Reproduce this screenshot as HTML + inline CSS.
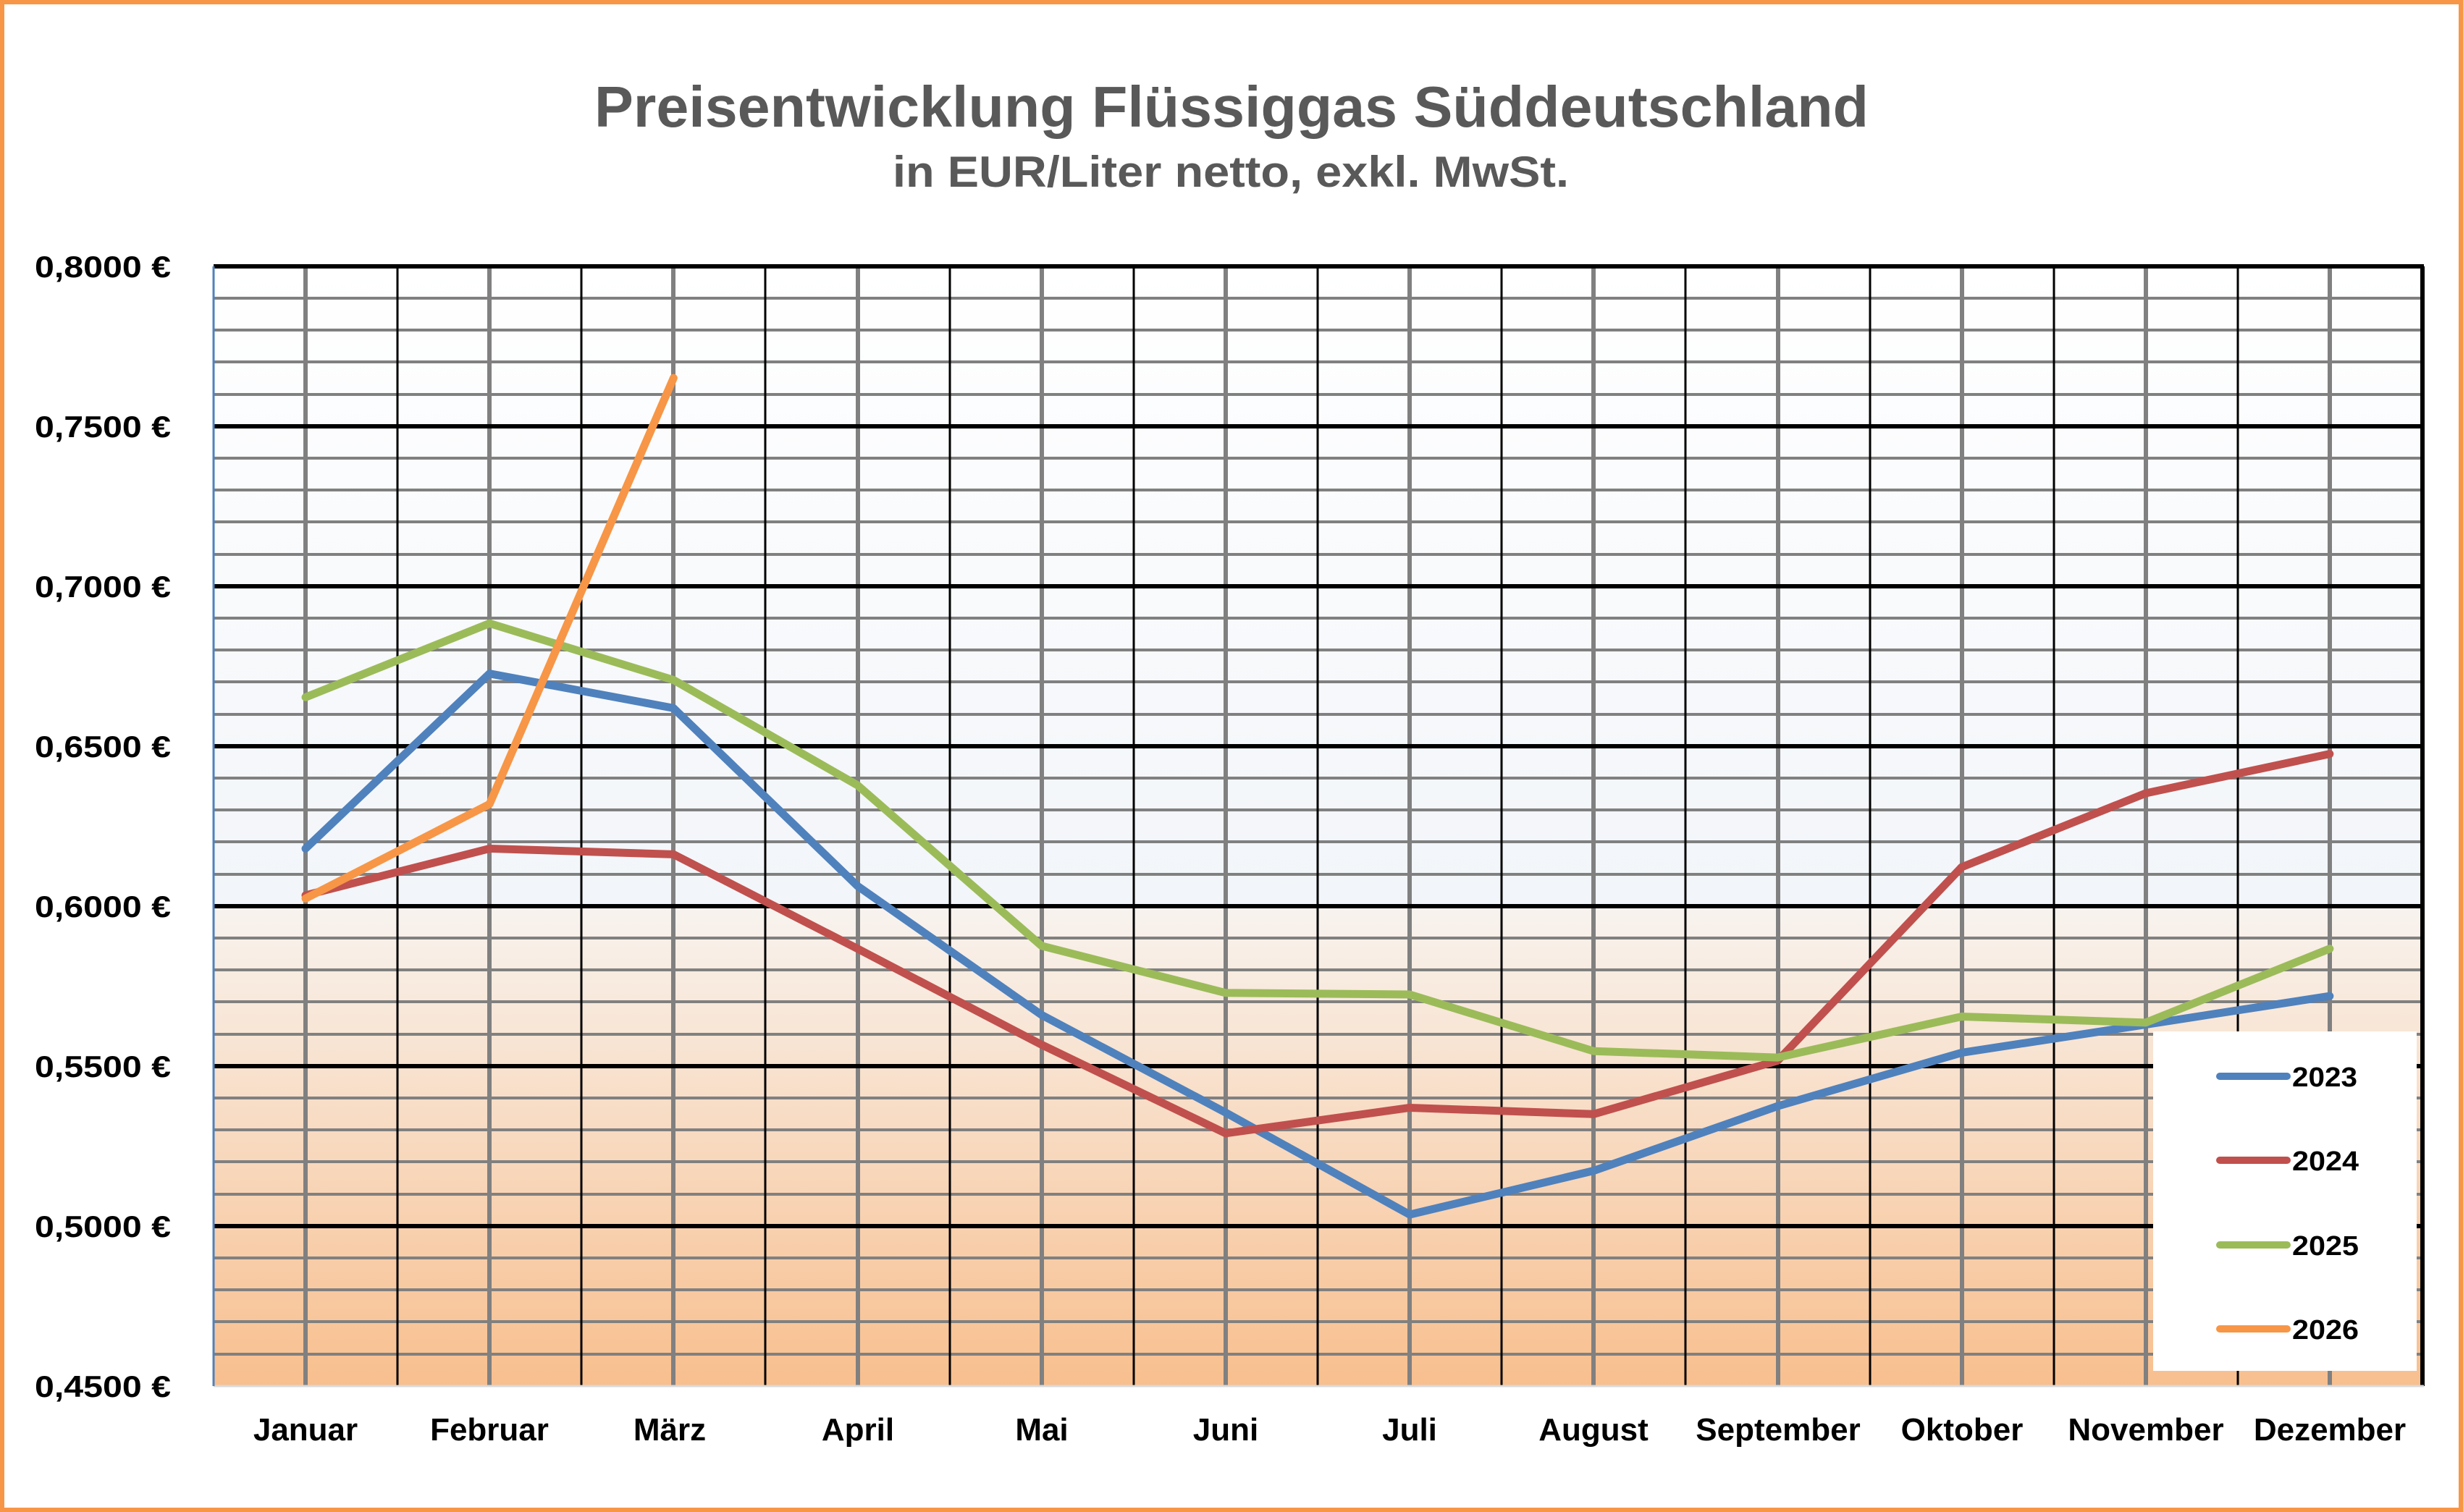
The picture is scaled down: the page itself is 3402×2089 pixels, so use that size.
<!DOCTYPE html>
<html><head><meta charset="utf-8"><style>
html,body{margin:0;padding:0;background:#fff}
svg{display:block}
text{font-family:"Liberation Sans",sans-serif;font-weight:bold}
</style></head><body>
<svg width="3402" height="2089" viewBox="0 0 3402 2089" xmlns="http://www.w3.org/2000/svg">
<defs>
<linearGradient id="bg" x1="0" y1="368" x2="0" y2="1915" gradientUnits="userSpaceOnUse">
<stop offset="0" stop-color="#ffffff"/>
<stop offset="0.57" stop-color="#f2f5f9"/>
<stop offset="0.572" stop-color="#f8f3ef"/>
<stop offset="1" stop-color="#f8bf8e"/>
</linearGradient>
</defs>
<rect x="0" y="0" width="3402" height="2089" fill="#fff"/>
<rect x="3" y="3" width="3396" height="2083" fill="none" stroke="#f79646" stroke-width="6"/>
<text x="1701" y="175" text-anchor="middle" font-size="80" fill="#595959" textLength="1760" lengthAdjust="spacingAndGlyphs">Preisentwicklung Flüssiggas Süddeutschland</text>
<text x="1700" y="258" text-anchor="middle" font-size="60" fill="#595959" textLength="934" lengthAdjust="spacingAndGlyphs">in EUR/Liter netto, exkl. MwSt.</text>
<rect x="295" y="368" width="3050" height="1547" fill="url(#bg)"/>
<g stroke="#808080" stroke-width="4">
<line x1="295" x2="3345" y1="412" y2="412"/><line x1="295" x2="3345" y1="456" y2="456"/><line x1="295" x2="3345" y1="500" y2="500"/><line x1="295" x2="3345" y1="545" y2="545"/>
<line x1="295" x2="3345" y1="633" y2="633"/><line x1="295" x2="3345" y1="677" y2="677"/><line x1="295" x2="3345" y1="721" y2="721"/><line x1="295" x2="3345" y1="766" y2="766"/>
<line x1="295" x2="3345" y1="854" y2="854"/><line x1="295" x2="3345" y1="898" y2="898"/><line x1="295" x2="3345" y1="942" y2="942"/><line x1="295" x2="3345" y1="987" y2="987"/>
<line x1="295" x2="3345" y1="1075" y2="1075"/><line x1="295" x2="3345" y1="1119" y2="1119"/><line x1="295" x2="3345" y1="1163" y2="1163"/><line x1="295" x2="3345" y1="1208" y2="1208"/>
<line x1="295" x2="3345" y1="1296" y2="1296"/><line x1="295" x2="3345" y1="1340" y2="1340"/><line x1="295" x2="3345" y1="1384" y2="1384"/><line x1="295" x2="3345" y1="1429" y2="1429"/>
<line x1="295" x2="3345" y1="1517" y2="1517"/><line x1="295" x2="3345" y1="1561" y2="1561"/><line x1="295" x2="3345" y1="1605" y2="1605"/><line x1="295" x2="3345" y1="1650" y2="1650"/>
<line x1="295" x2="3345" y1="1738" y2="1738"/><line x1="295" x2="3345" y1="1782" y2="1782"/><line x1="295" x2="3345" y1="1826" y2="1826"/><line x1="295" x2="3345" y1="1871" y2="1871"/>
</g>
<g stroke="#808080" stroke-width="6">
<line x1="422" x2="422" y1="368" y2="1915"/><line x1="676" x2="676" y1="368" y2="1915"/><line x1="930" x2="930" y1="368" y2="1915"/><line x1="1185" x2="1185" y1="368" y2="1915"/><line x1="1439" x2="1439" y1="368" y2="1915"/><line x1="1693" x2="1693" y1="368" y2="1915"/><line x1="1947" x2="1947" y1="368" y2="1915"/><line x1="2201" x2="2201" y1="368" y2="1915"/><line x1="2456" x2="2456" y1="368" y2="1915"/><line x1="2710" x2="2710" y1="368" y2="1915"/><line x1="2964" x2="2964" y1="368" y2="1915"/><line x1="3218" x2="3218" y1="368" y2="1915"/>
</g>
<g stroke="#000" stroke-width="3">
<line x1="549" x2="549" y1="368" y2="1915"/><line x1="803" x2="803" y1="368" y2="1915"/><line x1="1057" x2="1057" y1="368" y2="1915"/><line x1="1312" x2="1312" y1="368" y2="1915"/><line x1="1566" x2="1566" y1="368" y2="1915"/><line x1="1820" x2="1820" y1="368" y2="1915"/><line x1="2074" x2="2074" y1="368" y2="1915"/><line x1="2328" x2="2328" y1="368" y2="1915"/><line x1="2583" x2="2583" y1="368" y2="1915"/><line x1="2837" x2="2837" y1="368" y2="1915"/><line x1="3091" x2="3091" y1="368" y2="1915"/>
</g>
<g stroke="#000" stroke-width="6">
<line x1="295" x2="3348" y1="368" y2="368"/><line x1="295" x2="3345" y1="589" y2="589"/><line x1="295" x2="3345" y1="810" y2="810"/><line x1="295" x2="3345" y1="1031" y2="1031"/><line x1="295" x2="3345" y1="1252" y2="1252"/><line x1="295" x2="3345" y1="1473" y2="1473"/><line x1="295" x2="3345" y1="1694" y2="1694"/>
<line x1="3346" x2="3346" y1="368" y2="1915"/>
</g>
<line x1="295" x2="3348" y1="1915" y2="1915" stroke="#d9d9d9" stroke-width="3"/>
<line x1="295" x2="295" y1="368" y2="1915" stroke="#4f81bd" stroke-width="3"/>
<g transform="matrix(254.17 0 0 -4420 422 3904)" fill="none" stroke-linejoin="round" stroke-linecap="round">
<polyline vector-effect="non-scaling-stroke" stroke="#4f81bd" stroke-width="11" points="0,0.618 1,0.6727 2,0.6619 3,0.6063 4,0.566 5,0.5355 6,0.5036 7,0.5173 8,0.5375 9,0.5542 10,0.563 11,0.5719"/>
<polyline vector-effect="non-scaling-stroke" stroke="#c0504d" stroke-width="11" points="0,0.6034 1,0.618 2,0.6162 3,0.5867 4,0.5567 5,0.529 6,0.537 7,0.535 8,0.5517 9,0.6122 10,0.6353 11,0.6476"/>
<polyline vector-effect="non-scaling-stroke" stroke="#9bbb59" stroke-width="11" points="0,0.6653 1,0.6884 2,0.6707 3,0.6378 4,0.5876 5,0.5729 6,0.5724 7,0.5547 8,0.5527 9,0.5655 10,0.5636 11,0.5867"/>
<polyline vector-effect="non-scaling-stroke" stroke="#f79646" stroke-width="11" points="0,0.6024 1,0.6319 2,0.7651"/>
</g>
<rect x="2974" y="1425" width="364" height="469" fill="#fff"/>
<g stroke-width="10" stroke-linecap="round">
<line x1="3066" x2="3159" y1="1487" y2="1487" stroke="#4f81bd"/>
<line x1="3066" x2="3159" y1="1603" y2="1603" stroke="#c0504d"/>
<line x1="3066" x2="3159" y1="1720" y2="1720" stroke="#9bbb59"/>
<line x1="3066" x2="3159" y1="1836" y2="1836" stroke="#f79646"/>
</g>
<g font-size="38" fill="#000">
<text x="3166" y="1501" textLength="90" lengthAdjust="spacingAndGlyphs">2023</text><text x="3166" y="1617" textLength="92" lengthAdjust="spacingAndGlyphs">2024</text><text x="3166" y="1734" textLength="92" lengthAdjust="spacingAndGlyphs">2025</text><text x="3166" y="1850" textLength="92" lengthAdjust="spacingAndGlyphs">2026</text>
</g>
<g font-size="42" fill="#000" text-anchor="end">
<text x="236" y="383" textLength="188" lengthAdjust="spacingAndGlyphs">0,8000 €</text><text x="236" y="604" textLength="188" lengthAdjust="spacingAndGlyphs">0,7500 €</text><text x="236" y="825" textLength="188" lengthAdjust="spacingAndGlyphs">0,7000 €</text><text x="236" y="1046" textLength="188" lengthAdjust="spacingAndGlyphs">0,6500 €</text><text x="236" y="1267" textLength="188" lengthAdjust="spacingAndGlyphs">0,6000 €</text><text x="236" y="1488" textLength="188" lengthAdjust="spacingAndGlyphs">0,5500 €</text><text x="236" y="1709" textLength="188" lengthAdjust="spacingAndGlyphs">0,5000 €</text><text x="236" y="1930" textLength="188" lengthAdjust="spacingAndGlyphs">0,4500 €</text>
</g>
<g font-size="44" fill="#000" text-anchor="middle">
<text x="422" y="1990">Januar</text><text x="676" y="1990">Februar</text><text x="925" y="1990">März</text><text x="1185" y="1990">April</text><text x="1439" y="1990">Mai</text><text x="1693" y="1990">Juni</text><text x="1947" y="1990">Juli</text><text x="2201" y="1990">August</text><text x="2456" y="1990">September</text><text x="2710" y="1990">Oktober</text><text x="2964" y="1990">November</text><text x="3218" y="1990">Dezember</text>
</g>
</svg>
</body></html>
